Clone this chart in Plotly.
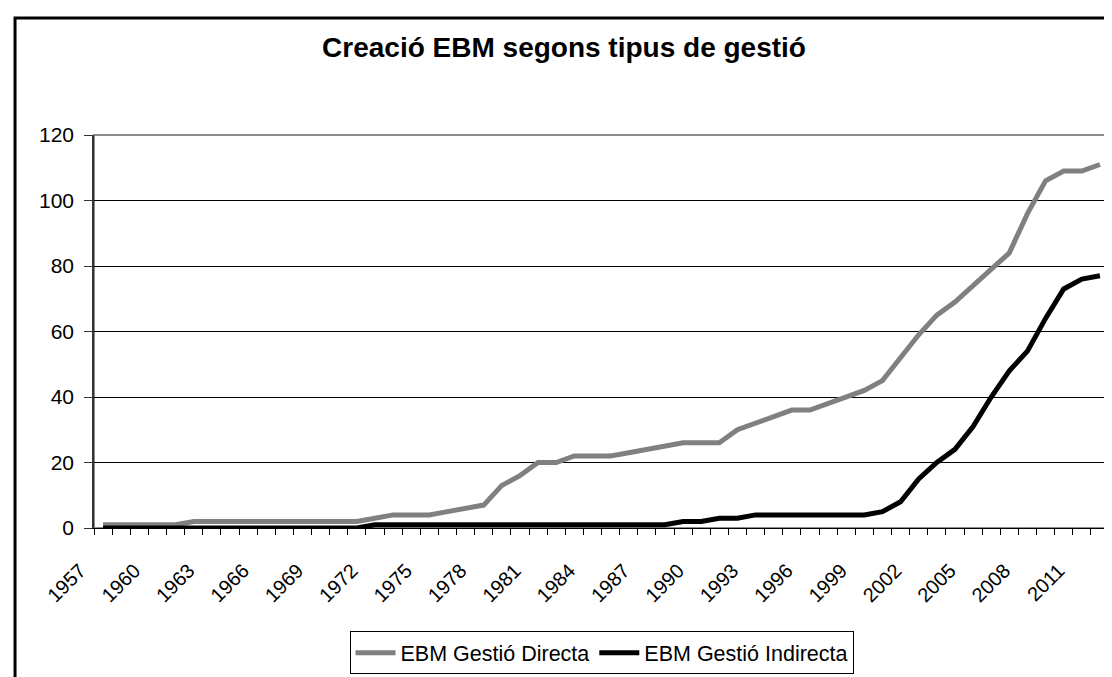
import plotly.graph_objs as go

# years 1957..2012, one category per year
years = list(range(1957, 2013))

directa = [1, 1, 1, 1, 1, 2, 2, 2, 2, 2,
           2, 2, 2, 2, 2, 3, 4, 4, 4, 5,
           6, 7, 13, 16, 20, 20, 22, 22, 22, 23,
           24, 25, 26, 26, 26, 30, 32, 34, 36, 36,
           38, 40, 42, 45, 52, 59, 65, 69, 74, 79,
           84, 96, 106, 109, 109, 111]

indirecta = [0, 0, 0, 0, 0, 0, 0, 0, 0, 0,
             0, 0, 0, 0, 0, 1, 1, 1, 1, 1,
             1, 1, 1, 1, 1, 1, 1, 1, 1, 1,
             1, 1, 2, 2, 3, 3, 4, 4, 4, 4,
             4, 4, 4, 5, 8, 15, 20, 24, 31, 40,
             48, 54, 64, 73, 76, 77]

label_years = years[::3]
yticks = [0, 20, 40, 60, 80, 100, 120]

FONT = "Liberation Sans, Arial, sans-serif"

fig = go.Figure()
fig.add_trace(go.Scatter(x=years, y=directa, mode='lines',
                         line=dict(color='#808080', width=5),
                         name='EBM Gestió Directa'))
fig.add_trace(go.Scatter(x=years, y=indirecta, mode='lines',
                         line=dict(color='black', width=5),
                         name='EBM Gestió Indirecta'))

fig.update_layout(
    width=1112, height=677,
    margin=dict(l=86, r=11, t=127, b=150),
    paper_bgcolor='white', plot_bgcolor='white',
    font=dict(family=FONT, color='black', size=20),
    title=dict(text='<b>Creació EBM segons tipus de gestió</b>',
               x=0.5, xanchor='center', y=0.942, yanchor='middle',
               font=dict(size=28, family=FONT, color='black')),
    showlegend=True,
    legend=dict(orientation='h', x=0.5, xanchor='center', y=-0.2625, yanchor='top',
                bordercolor='black', borderwidth=1, bgcolor='white',
                itemwidth=40, font=dict(size=21.5, family=FONT)),
)

fig.update_xaxes(range=[years[0] - 0.5, years[-1] + 0.5],
                 tickmode='array', tickvals=label_years,
                 ticktext=[str(y) for y in label_years],
                 tickangle=-45, ticks='', showgrid=False, zeroline=False,
                 showline=True, linecolor='black', linewidth=1,
                 tickfont=dict(size=20),
                 ticklabelstandoff=22, ticklabelshift=-23,
                 minor=dict(ticks='outside', tick0=years[0] - 0.5, dtick=1,
                            ticklen=6, tickcolor='black', tickwidth=1, showgrid=False))

fig.update_yaxes(range=[0, 120], tickvals=yticks, ticks='outside', ticklen=8,
                 tickcolor='#333333', showgrid=True, gridcolor='black', gridwidth=1,
                 zeroline=False, showline=True, linecolor='#333333', linewidth=1.5,
                 tickfont=dict(size=21), ticklabelstandoff=6)

# plot area frame (grey) and outer chart frame (black)
fig.add_shape(type='rect', xref='paper', yref='paper', x0=0, y0=0, x1=1, y1=1,
              line=dict(color='#8c8c8c', width=2), layer='below')
fig.add_shape(type='rect', xref='paper', yref='paper', x0=-0.0778, y0=-0.5, x1=1.1, y1=1.2975,
              line=dict(color='black', width=3))

fig.write_html("out.html")
